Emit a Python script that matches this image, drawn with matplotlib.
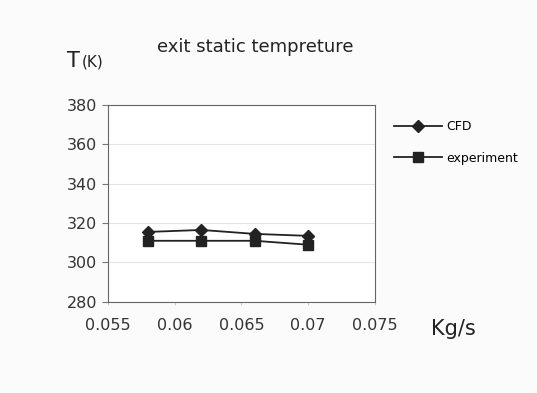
import matplotlib.pyplot as plt

mass_flow = [0.058, 0.062, 0.066, 0.070]
cfd = [315.5, 316.5, 314.5, 313.5]
experiment = [311, 311, 311, 309]

fig = plt.figure(figsize=(5.37, 3.93), dpi=100)
fig.patch.set_facecolor('#fbfbfb')
ax = fig.add_axes([0.201, 0.232, 0.497, 0.501])

ax.plot(mass_flow, cfd, color='#222222', lw=1.3, marker='D', ms=6.5, label='CFD')
ax.plot(mass_flow, experiment, color='#222222', lw=1.3, marker='s', ms=7, label='experiment')

ax.set_xlim(0.055, 0.075)
ax.set_ylim(280, 380)
ax.set_xticks([0.055, 0.06, 0.065, 0.07, 0.075])
ax.set_xticklabels(['0.055', '0.06', '0.065', '0.07', '0.075'])
ax.set_yticks(range(280, 381, 20))
ax.yaxis.grid(True, color='#e2e6ea', lw=0.8)
ax.tick_params(labelsize=11.5, colors='#333333', length=4, color='#777777')
ax.tick_params(axis='x', length=2, color='#cccccc', pad=10)
for s in ax.spines.values():
    s.set_color('#666666')

fig.text(0.475, 0.868, 'exit static tempreture', fontsize=13, ha='center', color='#222222')
fig.text(0.125, 0.83, 'T', fontsize=15, color='#222222')
fig.text(0.152, 0.83, '(K)', fontsize=11, color='#222222')
fig.text(0.803, 0.148, 'Kg/s', fontsize=15, color='#222222')

ax.legend(loc='upper left', bbox_to_anchor=(1.03, 0.98), frameon=False,
          fontsize=9, handlelength=3.8, labelspacing=1.5, handletextpad=0.4)

fig.savefig('out.png', dpi=100)
